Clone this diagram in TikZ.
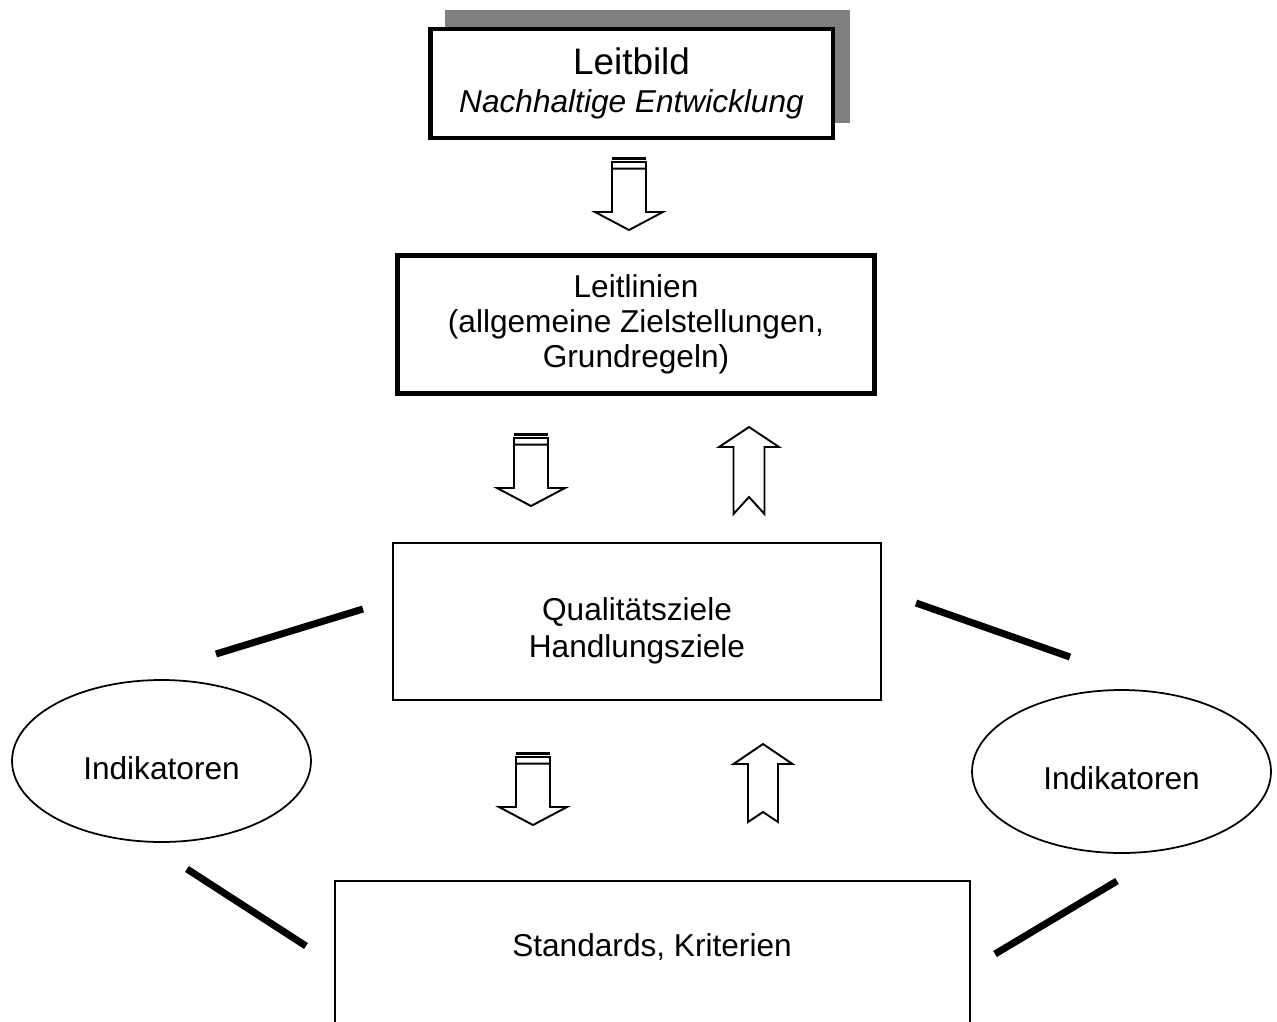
\documentclass[tikz,border=0pt]{standalone}
\usepackage{fontspec}
\setmainfont{Liberation Sans}
\usetikzlibrary{shapes.geometric}
\begin{document}
\begin{tikzpicture}[x=0.02cm,y=-0.02cm]
\tikzstyle{mainbox} = [draw,fill=white,line width=2.8pt,inner sep=0,align=center];
\tikzstyle{thinbox} = [draw,line width=1.2pt,inner sep=0,align=center];
\tikzstyle{indicator} = [draw,ellipse,line width=1pt,inner sep=0,minimum width=5.98cm,minimum height=3.24cm,text height=21pt,font=\fontsize{18}{21}\selectfont];
\tikzstyle{bar} = [line width=4pt];
\tikzstyle{blockarrow} = [draw,fill=white,line width=1.1pt];
\tikzset{
  pics/stripedown/.style={code={
    \fill (-17,0) rectangle (17,2.6);
    \draw[line width=1.1pt] (-17,4.6) rectangle (17,11.7);
    \draw[blockarrow] (-17,11.7) -- (-17,55) -- (-34,55) -- (0,73) -- (34,55) -- (17,55) -- (17,11.7) -- cycle;
  }},
  pics/notchup/.style n args={4}{code={
    \draw[blockarrow] (0,0) -- (#3,20) -- (#4,20) -- (#4,#1) -- (0,{#1-#2}) -- (-#4,#1) -- (-#4,20) -- (-#3,20) -- cycle;
  }}
}
\useasboundingbox (0,0) rectangle (1277,1021);

% Leitbild with its shadow
\fill[gray] (445,10) rectangle (850,123);
\node [mainbox,minimum width=8.06cm,minimum height=2.18cm,font=\fontsize{21}{22}\selectfont] (leitbild) at (631.5,83.5) {Leitbild\\{\itshape\fontsize{18}{22}\selectfont Nachhaltige Entwicklung}};

\node [mainbox,minimum width=9.54cm,minimum height=2.76cm,font=\fontsize{18}{20}\selectfont] (leitlinien) at (636,324.5) {Leitlinien\\(allgemeine Zielstellungen,\\Grundregeln)};

\node [thinbox,minimum width=9.76cm,minimum height=3.14cm,font=\fontsize{18}{21}\selectfont] (ziele) at (637,621.5) {\rule{0pt}{23.3pt}Qualitätsziele\\Handlungsziele};

\node [thinbox,line width=1.1pt,anchor=north west,minimum width=12.7cm,minimum height=3.1cm] (standards) at (334,880) {};
\node [anchor=base,font=\fontsize{18}{21}\selectfont] (standardstext) at (652,956) {Standards, Kriterien};

\node [indicator] (indl) at (161.5,761) {Indikatoren};
\node [indicator,minimum height=3.26cm] (indr) at (1121.5,771.5) {Indikatoren};

\pic at (629,157) {stripedown};
\pic at (531,433) {stripedown};
\pic at (533,752) {stripedown};
\pic at (749,427) {notchup={87}{17}{30}{15.5}};
\pic at (763,744) {notchup={78}{10}{29.5}{15}};

\draw [bar] (216,654) -- (363,609);
\draw [bar] (916,603) -- (1070,657);
\draw [bar] (187,869) -- (306,946);
\draw [bar] (995,954) -- (1117,881);
\end{tikzpicture}
\end{document}
